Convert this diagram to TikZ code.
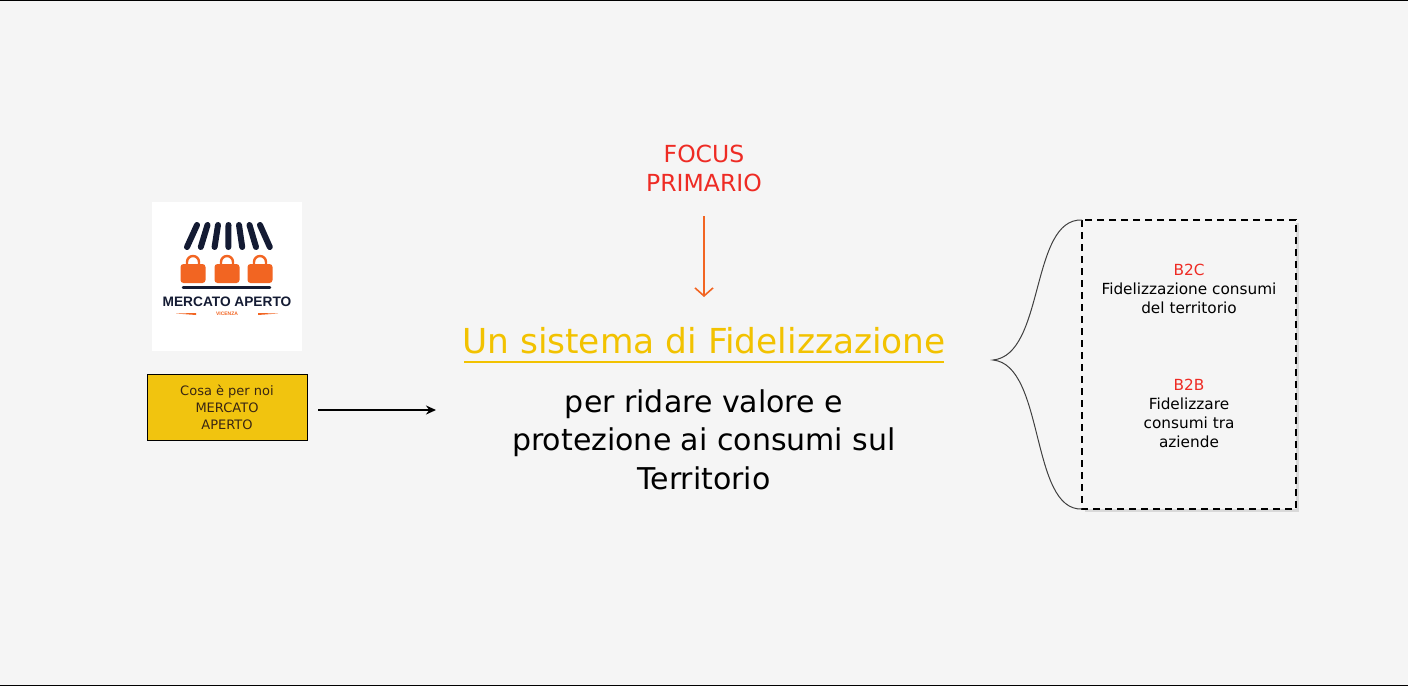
\documentclass[tikz,border=0pt]{standalone}
\usepackage{fontspec}
\setmainfont{DejaVu Sans}
\newfontfamily\logofont{Liberation Sans}
\usetikzlibrary{arrows.meta}
\definecolor{bg}{HTML}{F5F5F5}
\definecolor{gold}{HTML}{F1C40F}
\definecolor{txtgold}{HTML}{F2C200}
\definecolor{fred}{HTML}{EE2B24}
\definecolor{forange}{HTML}{F26522}
\definecolor{navy}{HTML}{141B33}
\tikzset{
  t/.style={align=center,inner sep=0pt},
  side/.style={t,font=\fontsize{15.3}{19}\selectfont},
}
\begin{document}
\begin{tikzpicture}[x=1pt,y=-1pt]
\useasboundingbox (0,0) rectangle (1408,686);
\fill[bg] (0,0) rectangle (1408,686);
\draw[black,line width=1pt] (0,0.5) -- (1408,0.5) (0,685.5) -- (1408,685.5);
% logo
\node[fill=white,minimum width=150pt,minimum height=149pt,inner sep=0pt] (logo) at (227,276.5) {};
\foreach \i in {0,...,6}{
  \pgfmathsetmacro\bx{187+\i*13.8}
  \pgfmathsetmacro\tx{197+\i*10.5}
  \draw[navy,line width=6pt,line cap=round] (\tx,225) -- (\bx,247);
}
\foreach \cx in {193,227,260}{
  \fill[forange,rounded corners=3pt] (\cx-12.5,264) rectangle (\cx+12.5,283);
  \draw[forange,line width=2.4pt] (\cx-6,265) -- (\cx-6,262) arc[start angle=180,end angle=360,radius=6] -- (\cx+6,265);
}
\draw[navy,line width=2.5pt,line cap=round] (183,287.5) -- (270,287.5);
\node[t,font=\logofont\bfseries\fontsize{13.7}{14}\selectfont,text=navy] (lt) at (227,302) {MERCATO APERTO};
\node[t,font=\logofont\bfseries\fontsize{5}{6}\selectfont,text=forange] (lv) at (227,314) {VICENZA};
\fill[forange] (176,313.5) -- (196,313) -- (196,315) -- cycle;
\fill[forange] (258,313) -- (278,313.5) -- (258,315) -- cycle;
% yellow box
\node[draw=black,fill=gold,minimum width=160pt,minimum height=66pt,t,font=\fontsize{13}{17}\selectfont,text={black!70!brown}] (ybox) at (227,407) {Cosa è per noi\\MERCATO\\APERTO};
\coordinate (a1) at (318,410);
\coordinate (a2) at (436,410);
\draw[-{Stealth[length=10pt,width=9pt]},line width=2pt] (a1) -- (a2);
% focus
\node[t,text=fred,font=\fontsize{23.5}{29}\selectfont] (focus) at (704,168) {FOCUS\\PRIMARIO};
\node[t,text=txtgold,font=\fontsize{34.4}{38}\selectfont] (title) at (704,341) {Un sistema di Fidelizzazione};
\draw[forange,line width=1.6pt,-{Straight Barb[length=8pt,width=18pt]}] (704,216) -- (704,297);
\draw[txtgold,line width=2pt] (464,361.5) -- (944,361.5);
\node[t,font=\fontsize{30}{38.5}\selectfont] (desc) at (704,439.5) {per ridare valore e\\protezione ai consumi sul\\Territorio};
% dashed box
\fill[black!15] (1085,223) rectangle (1299,512);
\draw[dash pattern=on 7pt off 5pt,line width=1.8pt,fill=bg] (1082,220) rectangle (1296,509);
\node[side] (b2c) at (1189,289) {\textcolor{fred}{B2C}\\Fidelizzazione consumi\\del territorio};
\node[side] (b2b) at (1189,413.5) {\textcolor{fred}{B2B}\\Fidelizzare\\consumi tra\\aziende};
% brace
\draw[black!75,line width=1pt] (1082,220) .. controls (1030,218) and (1045,355) .. (993,360)
  .. controls (1045,365) and (1030,511) .. (1082,509);
\end{tikzpicture}
\end{document}
